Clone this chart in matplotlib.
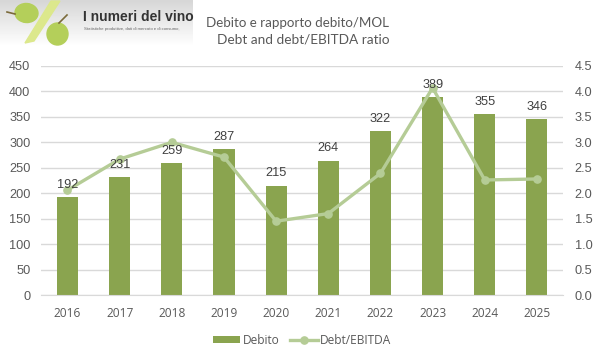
import matplotlib
matplotlib.use('agg')
import matplotlib.pyplot as plt
import numpy as np
from matplotlib.patches import Ellipse, Polygon

years = ['2016', '2017', '2018', '2019', '2020', '2021', '2022', '2023', '2024', '2025']
debito = [192, 231, 259, 287, 215, 264, 322, 389, 355, 346]
ratio = [2.06, 2.67, 3.0, 2.71, 1.45, 1.6, 2.39, 4.07, 2.26, 2.28]

W, H = 601, 360
BAR = '#8AA44F'
LINE = '#B5CC96'
GRID = '#D9D9D9'
TXT = '#595959'

plt.rcParams['font.family'] = ['Liberation Sans', 'DejaVu Sans']
fig = plt.figure(figsize=(W / 100, H / 100), dpi=100)

# axes box in pixels: left 41, right 563, top 66, bottom 295
ax = fig.add_axes([41.4 / W, 1 - 295 / H, (563 - 41.4) / W, (295 - 66) / H])
x = np.arange(len(years))
ax.bar(x, debito, width=0.405, color=BAR, zorder=2, label='Debito')
ax.set_xlim(-0.5, 9.5)
ax.set_ylim(0, 450)
ax.set_yticks(range(0, 451, 50))
ax.set_xticks(x)
ax.set_xticklabels(years, family=['Open Sans', 'DejaVu Sans'])
ax.grid(axis='y', color=GRID, lw=1, zorder=0)
ax.set_axisbelow(True)
for s in ['top', 'right', 'left']:
    ax.spines[s].set_visible(False)
ax.spines['bottom'].set_color(GRID)
ax.tick_params(axis='y', length=0, labelsize=9.2, labelcolor=TXT, pad=8)
ax.tick_params(axis='x', length=0, labelsize=8.6, labelcolor=TXT, pad=8.5)

ax2 = ax.twinx()
ax2.plot(x, ratio, color=LINE, lw=2.4, marker='o', ms=5.2, zorder=3, label='Debt/EBITDA')
ax2.set_ylim(0, 4.5)
ax2.set_yticks(np.arange(0, 4.6, 0.5))
ax2.set_yticklabels(['%.1f' % v for v in np.arange(0, 4.6, 0.5)])
for s in ax2.spines.values():
    s.set_visible(False)
ax2.tick_params(axis='y', length=0, labelsize=9.2, labelcolor=TXT, pad=8.5)

# labels on top of the line, like the original
for xi, v in zip(x, debito):
    ax2.annotate(str(v), (xi, v / 100), xytext=(0, 4.5), textcoords='offset points',
                 ha='center', va='bottom', fontsize=9.2, color='#404040', zorder=5)

h1, l1 = ax.get_legend_handles_labels()
h2, l2 = ax2.get_legend_handles_labels()
fig.legend(h1 + h2, l1 + l2, loc='center', bbox_to_anchor=(302 / W, 1 - 340 / H), ncol=2, frameon=False,
           prop={'family': ['Open Sans', 'DejaVu Sans'], 'size': 8.6}, labelcolor=TXT,
           handlelength=2.3, handletextpad=0.2, columnspacing=0.9, handleheight=0.5)

# title
fig.text(298 / W, 1 - 23 / H, 'Debito e rapporto debito/MOL', ha='center', va='center', fontsize=9.6,
         color=TXT, family=['Lato', 'DejaVu Sans'])
fig.text(303 / W, 1 - 40 / H, 'Debt and debt/EBITDA ratio', ha='center', va='center', fontsize=9.8,
         color=TXT, family=['Lato', 'DejaVu Sans'])

# logo banner
logo = fig.add_axes([0, 1 - 47 / H, 193 / W, 47 / H])
grad = np.linspace(0.84, 1.0, 47).reshape(-1, 1)
logo.imshow(grad, cmap='gray', vmin=0, vmax=1, aspect='auto', extent=(0, 193, 47, 0))
logo.set_xlim(0, 193)
logo.set_ylim(47, 0)
logo.axis('off')
logo.add_patch(Polygon([[51, 1], [60, 1], [34, 41], [25, 43]], color='#DCE88C'))
logo.add_patch(Ellipse((26.5, 13), 23, 19, angle=5, color='#B4CF5A'))
logo.add_patch(Ellipse((57.5, 34), 21, 22, color='#B4CF5A'))
logo.plot([7, 15], [12, 14], color='#7A6A3A', lw=1.2)
logo.plot([59, 67], [23, 15], color='#7A6A3A', lw=1.2)
logo.text(83, 17, 'I numeri del vino', fontsize=10, fontweight='bold', color='#333333', va='center')
logo.text(84, 29, 'Statistiche produttive, dati di mercato e di consumo,', fontsize=3.1, color='#666666', va='center')

fig.savefig('out.png', dpi=100)
